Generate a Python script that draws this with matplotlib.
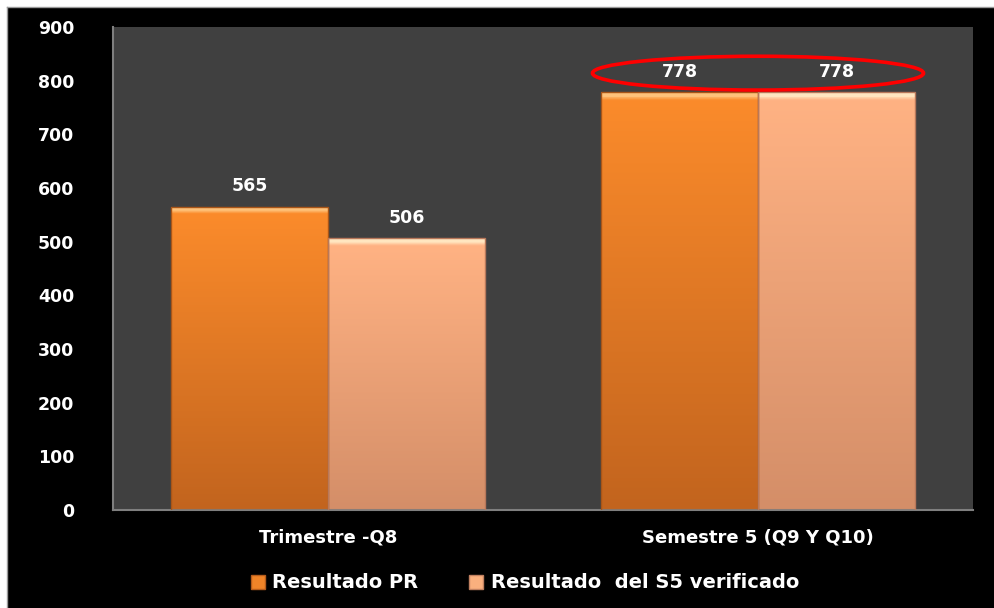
import numpy as np
import matplotlib
matplotlib.use("Agg")
from matplotlib import pyplot as plt
from matplotlib.patches import Rectangle, Ellipse
from matplotlib.lines import Line2D
from matplotlib.colors import LinearSegmentedColormap

categories = ["Trimestre -Q8", "Semestre 5 (Q9 Y Q10)"]
series_names = ["Resultado PR", "Resultado  del S5 verificado"]
resultado_pr = [565, 778]
resultado_s5 = [506, 778]
y_ticks = [0, 100, 200, 300, 400, 500, 600, 700, 800, 900]

fig = plt.figure(figsize=(9.94, 6.08), dpi=100, facecolor="white")
# black chart background, white strip on top/left like the screenshot
fig.patches.append(Rectangle((7 / 994, -0.1), 1.1, 1.1 - 7 / 608, transform=fig.transFigure,
                             facecolor="black", edgecolor="none", zorder=-10))
fig.lines.append(Line2D([7 / 994, 7 / 994], [0, 1 - 7 / 608], transform=fig.transFigure,
                        color="#9a9a9a", lw=1, zorder=-9))
fig.lines.append(Line2D([7 / 994, 1], [1 - 7 / 608, 1 - 7 / 608], transform=fig.transFigure,
                        color="#9a9a9a", lw=1, zorder=-9))

ax = fig.add_axes([113 / 994, 1 - 510 / 608, 860 / 994, 483 / 608])
ax.set_facecolor("#404040")

x = np.arange(len(categories))
w = 0.365

colors = [("#c2641e", "#fb8b2b", "#ffc27a", "#a85518"),
          ("#d48e68", "#ffb283", "#ffe6c0", "#b8785a")]


def gradient_bars(bars, bottom_c, top_c, bevel_c, edge_c):
    for b in bars:
        x0, y0 = b.get_x(), b.get_y()
        bw, bh = b.get_width(), b.get_height()
        bevel = 7 / (bh / 900 * 483)  # ~7 px light bevel at the top
        cmap = LinearSegmentedColormap.from_list(
            "g", [(0, bottom_c), (1 - bevel, top_c), (1 - bevel * 0.5, bevel_c), (1, bevel_c)])
        g = np.linspace(0, 1, 512).reshape(-1, 1)
        im = ax.imshow(g, cmap=cmap, aspect="auto", origin="lower",
                       extent=[x0, x0 + bw, y0, y0 + bh], zorder=2)
        im.set_clip_path(b)
        b.set_facecolor("none")
        b.set_edgecolor(edge_c)
        b.set_linewidth(1.0)
        b.set_zorder(3)


b1 = ax.bar(x - w / 2, resultado_pr, w, color="#f98a2a", zorder=2)
b2 = ax.bar(x + w / 2, resultado_s5, w, color="#fdb281", zorder=2)
gradient_bars(b1, *colors[0])
gradient_bars(b2, *colors[1])

for bars, vals in [(b1, resultado_pr), (b2, resultado_s5)]:
    for b, v in zip(bars, vals):
        ax.text(b.get_x() + b.get_width() / 2, v + 22, str(v), ha="center", va="bottom",
                color="white", fontsize=12.5, fontweight="bold", family="DejaVu Sans")

ax.add_patch(Ellipse((1, 814), 0.77, 63, fill=False, edgecolor="#ff0000", lw=2.6, zorder=4))

ax.set_xlim(-0.5, 1.5)
ax.set_ylim(0, 900)
ax.set_yticks(y_ticks)
ax.set_yticklabels([str(t) for t in y_ticks], color="white", fontsize=12.5, fontweight="bold")
ax.set_xticks(x)
ax.set_xticklabels(categories, color="white", fontsize=13, fontweight="bold")
ax.tick_params(axis="y", length=0, pad=28)
ax.tick_params(axis="x", length=0, pad=13)
for s in ["top", "right"]:
    ax.spines[s].set_visible(False)
for s in ["left", "bottom"]:
    ax.spines[s].set_color("#7f7f7f")
    ax.spines[s].set_linewidth(1.5)

handles = [Rectangle((0, 0), 1, 1, facecolor="#f08428", edgecolor="#b65c1b", lw=1),
           Rectangle((0, 0), 1, 1, facecolor="#fab07e", edgecolor="#c08060", lw=1)]
leg = fig.legend(handles, series_names, loc="center", bbox_to_anchor=(525 / 994, 1 - 583 / 608),
                 ncol=2, frameon=False, handlelength=0.7, handleheight=0.7,
                 handletextpad=0.4, columnspacing=2.6, prop={"weight": "bold", "size": 14})
for t in leg.get_texts():
    t.set_color("white")

plt.savefig("out.png", dpi=100, facecolor=fig.get_facecolor())
